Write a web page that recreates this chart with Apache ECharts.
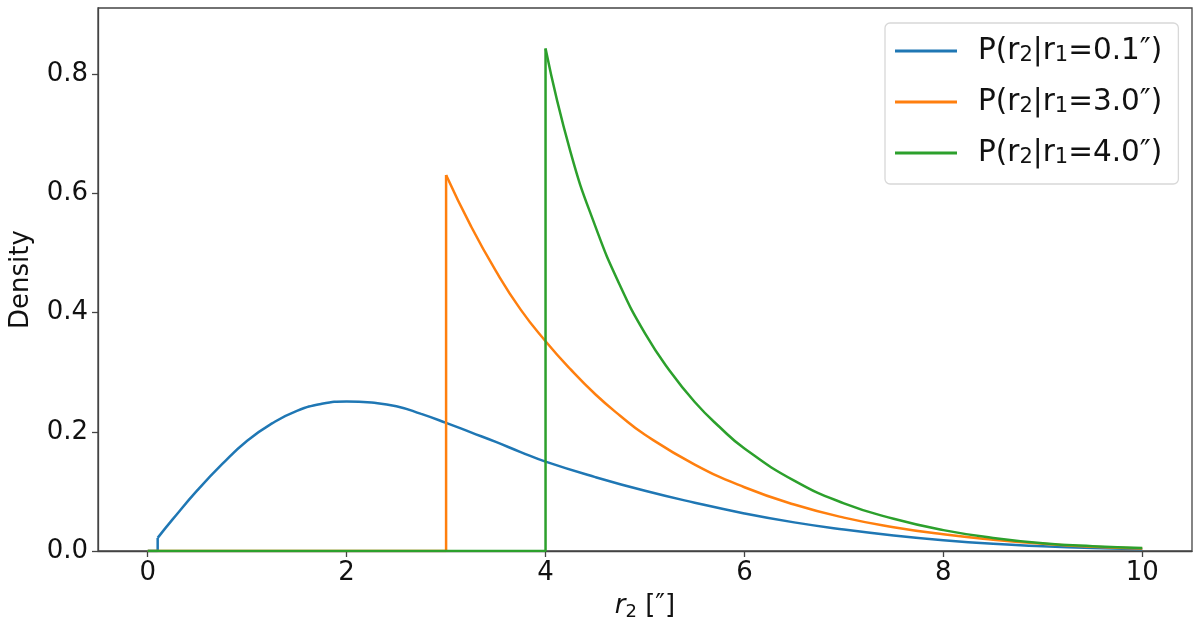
<!DOCTYPE html>
<html>
<head>
<meta charset="utf-8">
<script src="https://cdn.jsdelivr.net/npm/echarts@6/dist/echarts.min.js"></script>
<style>html,body{margin:0;padding:0;background:#fff}#c{width:1200px;height:631px}</style>
</head>
<body>
<div id="c"></div>
<script>
// ---- data ----
const seriesNames = ['P(r2|r1=0.1″)', 'P(r2|r1=3.0″)', 'P(r2|r1=4.0″)'];
const xTicks = [0, 2, 4, 6, 8, 10];
const yTicks = [0, 0.2, 0.4, 0.6, 0.8];

// r1 = 0.1
const blueStepX = [0, 0.1, 0.1];
const blueStepY = [0, 0, 0.022];
const blueX = [0.1, 0.25, 0.5, 0.75, 1, 1.25, 1.5, 1.75, 2, 2.25, 2.5, 2.75, 3, 3.25, 3.5, 3.75, 4, 4.5, 5, 5.5, 6, 6.5, 7, 7.5, 8, 8.5, 9, 9.5, 10];
const blueY = [0.022, 0.053, 0.102, 0.146, 0.185, 0.214, 0.235, 0.247, 0.251, 0.249, 0.243, 0.230, 0.215, 0.199, 0.183, 0.166, 0.150, 0.124, 0.101, 0.081, 0.063, 0.048, 0.036, 0.026, 0.018, 0.012, 0.008, 0.005, 0.003];

// r1 = 3.0
const orangeStepX = [0, 3, 3];
const orangeStepY = [0, 0, 0.631];
const orangeX = [3, 3.25, 3.5, 3.75, 4, 4.25, 4.5, 4.75, 5, 5.5, 6, 6.5, 7, 7.5, 8, 8.5, 9, 9.5, 10];
const orangeY = [0.631, 0.545, 0.470, 0.405, 0.352, 0.305, 0.263, 0.227, 0.195, 0.145, 0.107, 0.078, 0.056, 0.040, 0.028, 0.019, 0.012, 0.007, 0.004];

// r1 = 4.0
const greenStepX = [0, 4, 4];
const greenStepY = [0, 0, 0.843];
const greenX = [4, 4.25, 4.5, 4.75, 5, 5.25, 5.5, 5.75, 6, 6.5, 7, 7.5, 8, 8.5, 9, 9.5, 10];
const greenY = [0.843, 0.670, 0.545, 0.445, 0.365, 0.302, 0.250, 0.208, 0.172, 0.118, 0.080, 0.054, 0.035, 0.022, 0.013, 0.008, 0.005];

const colors = ['#1f77b4', '#ff7f0e', '#2ca02c'];
const zip = (xs, ys) => xs.map((x, i) => [x, ys[i]]);

const FONT = 'DejaVu Sans';
const chart = echarts.init(document.getElementById('c'), null, {renderer: 'canvas'});

function stepSeries(name, xs, ys, color) {
  return {name, type: 'line', data: zip(xs, ys), symbol: 'none', smooth: false,
    lineStyle: {color, width: 2.5}, itemStyle: {color}, animation: false};
}
function curveSeries(name, xs, ys, color) {
  return {name, type: 'line', data: zip(xs, ys), symbol: 'none', smooth: 0.5,
    lineStyle: {color, width: 2.5}, itemStyle: {color}, animation: false};
}

chart.setOption({
  animation: false,
  grid: {left: 97, right: 8, top: 8, bottom: 80, show: true, borderColor: '#444', borderWidth: 1.3, backgroundColor: 'transparent'},
  xAxis: {
    type: 'value', min: -0.5, max: 10.5,
    name: '{i|r}{s|2}{t| [″]}', nameLocation: 'middle', nameGap: 40,
    nameTextStyle: {rich: {
      i: {fontFamily: FONT, fontStyle: 'italic', fontSize: 26, color: '#111', lineHeight: 30},
      s: {fontFamily: FONT, fontSize: 18, color: '#111', lineHeight: 14, verticalAlign: 'bottom'},
      t: {fontFamily: FONT, fontSize: 26, color: '#111', lineHeight: 30}
    }},
    splitLine: {show: false},
    axisLine: {show: true, onZero: false, lineStyle: {color: '#444', width: 1.3}},
    axisTick: {show: true, length: 6, customValues: xTicks, lineStyle: {color: '#444', width: 1.3}},
    axisLabel: {customValues: xTicks, fontFamily: FONT, fontSize: 26, color: '#111', margin: 9,
      formatter: v => String(v)}
  },
  yAxis: {
    type: 'value', min: 0, max: 0.911,
    name: 'Density', nameLocation: 'middle', nameGap: 64, nameRotate: 90,
    nameTextStyle: {fontFamily: FONT, fontSize: 26, color: '#111'},
    splitLine: {show: false},
    axisLine: {show: true, onZero: false, lineStyle: {color: '#444', width: 1.3}},
    axisTick: {show: true, length: 6, customValues: yTicks, lineStyle: {color: '#444', width: 1.3}},
    axisLabel: {customValues: yTicks, fontFamily: FONT, fontSize: 26, color: '#111', margin: 10,
      formatter: v => v.toFixed(1)}
  },
  legend: {
    orient: 'vertical', left: 885, top: 23,
    data: seriesNames,
    backgroundColor: '#fff', borderColor: '#d8d8d8', borderWidth: 1.3, borderRadius: 5,
    padding: [13, 16, 16, 10], itemGap: 21, itemWidth: 62, itemHeight: 3,
    icon: 'rect',
    formatter: name => {
      const m = name.match(/^P\(r2\|r1=(.*)\)$/);
      return '{sp|}{t|P(r}{s|2}{t||r}{s|1}{t|=' + m[1] + ')}';
    },
    textStyle: {rich: {
      sp: {width: 16},
      t: {fontFamily: FONT, fontSize: 29.5, color: '#111', lineHeight: 30},
      s: {fontFamily: FONT, fontSize: 21, color: '#111', lineHeight: 14, verticalAlign: 'bottom'}
    }}
  },
  series: [
    stepSeries(seriesNames[0], blueStepX, blueStepY, colors[0]),
    curveSeries(seriesNames[0], blueX, blueY, colors[0]),
    stepSeries(seriesNames[1], orangeStepX, orangeStepY, colors[1]),
    curveSeries(seriesNames[1], orangeX, orangeY, colors[1]),
    stepSeries(seriesNames[2], greenStepX, greenStepY, colors[2]),
    curveSeries(seriesNames[2], greenX, greenY, colors[2])
  ]
});
</script>
</body>
</html>
